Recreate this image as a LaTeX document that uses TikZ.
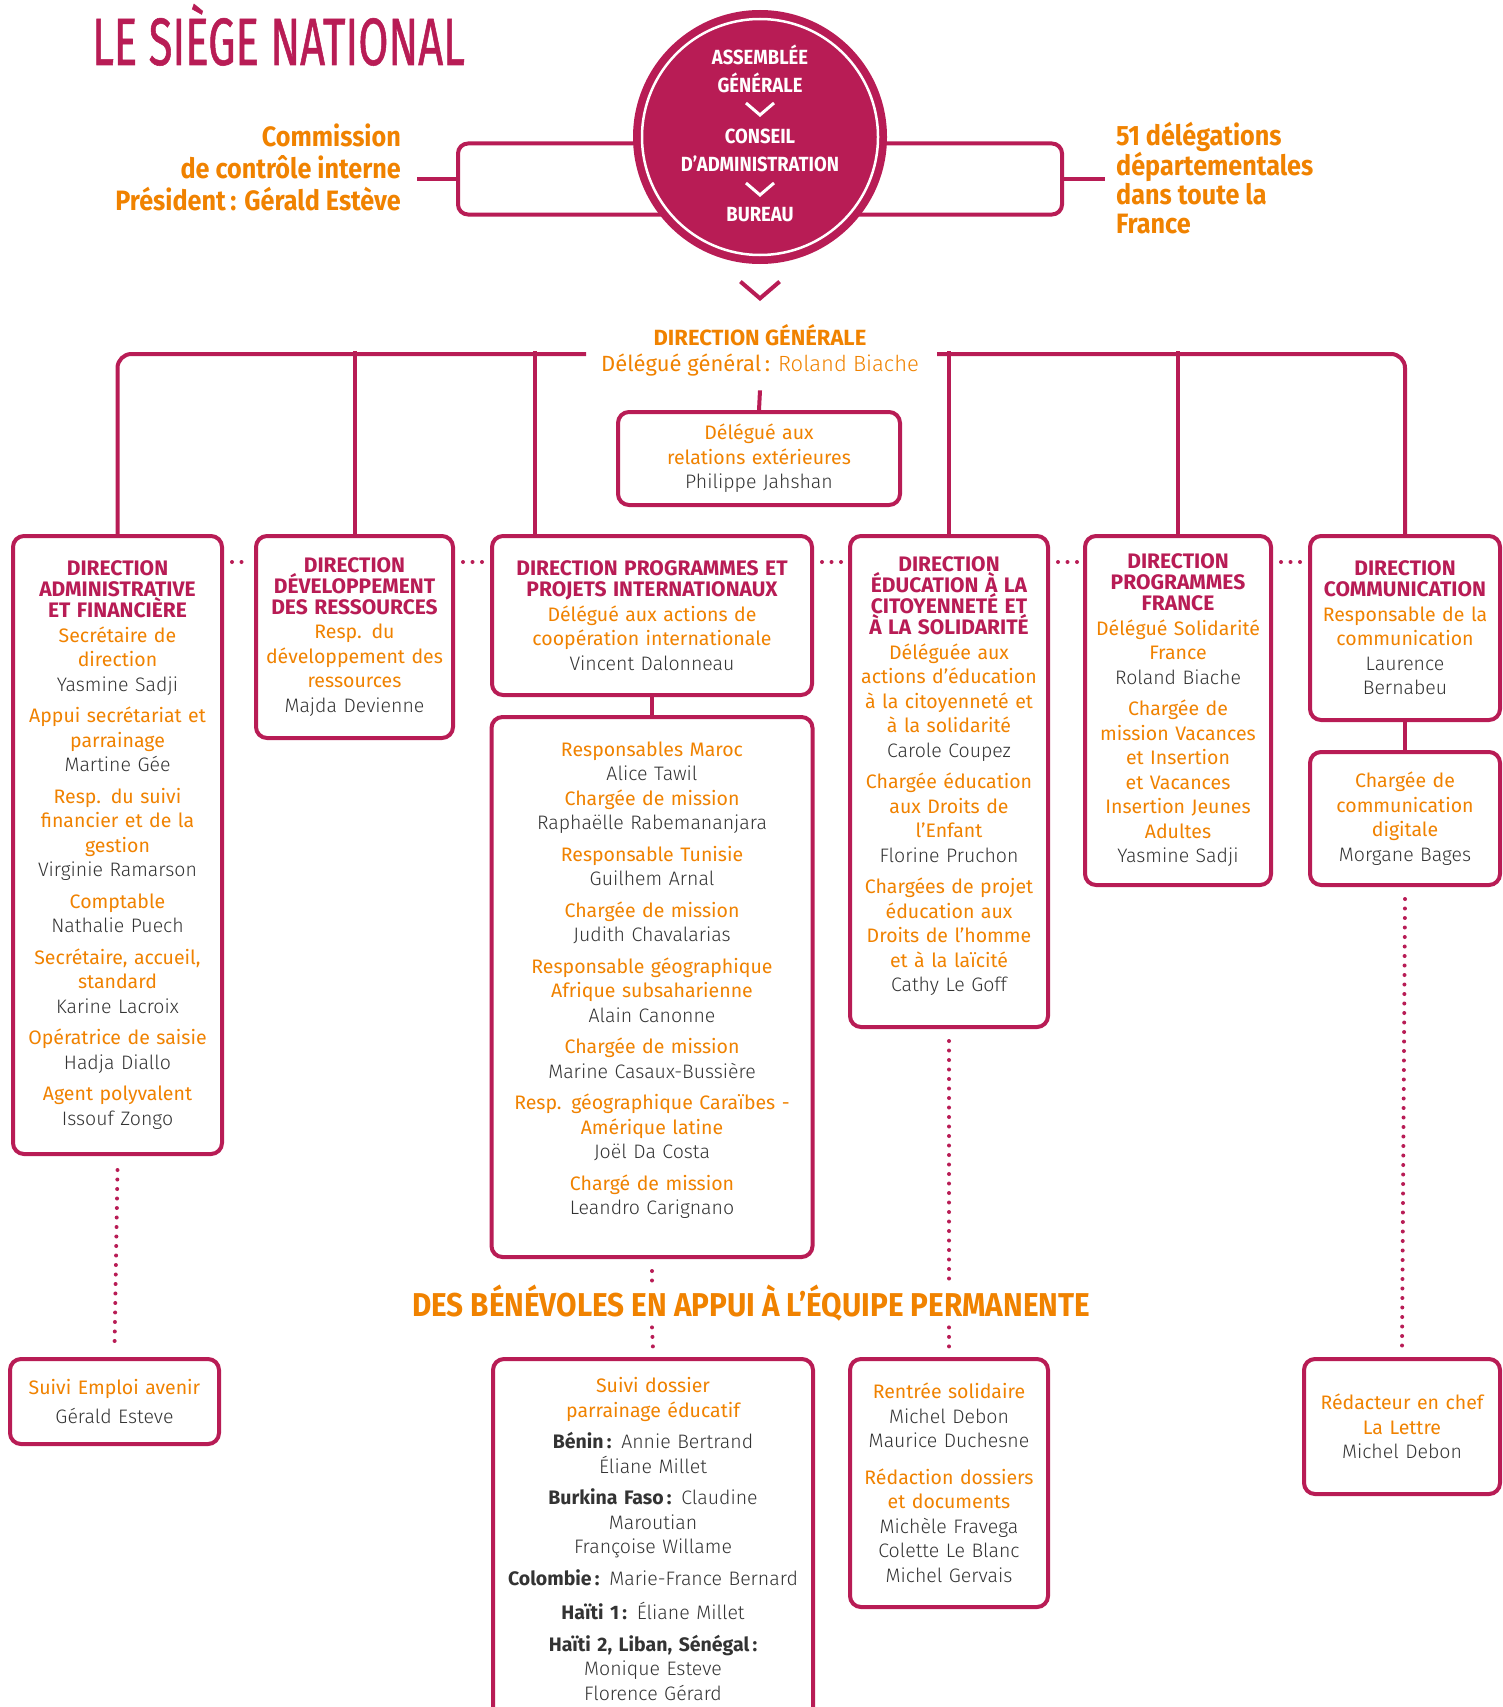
\documentclass[tikz,border=0pt]{standalone}
\usepackage{fontspec}
\setmainfont{Fira Sans}
\newfontfamily\namefont{Fira Sans Light}
\newfontfamily\headfont[FakeStretch=0.9]{Fira Sans}
\newfontfamily\titlefont[FakeStretch=0.65, FakeBold=0.8]{Fira Sans}
\usetikzlibrary{positioning, calc}

\definecolor{crimson}{HTML}{B81C55}
\definecolor{roleorange}{HTML}{F08200}
\definecolor{namegrey}{HTML}{333333}

\newcommand{\ro}[1]{\leavevmode{\rmfamily\color{roleorange}#1}}
\newcommand{\cty}[1]{{\rmfamily\bfseries #1}}
\newcommand{\dirhead}[1]{{\leavevmode\rmfamily\bfseries\fontsize{21}{21}\selectfont\color{crimson}#1\par}}
\newcommand{\gap}{7pt}

\begin{document}
\begin{tikzpicture}[x=1pt, y=-1pt,
    link/.style={draw=crimson, line width=4pt},
    dotline/.style={draw=crimson, line width=4pt, line cap=round, dash pattern=on 0pt off 9.5pt},
    orgbox/.style 2 args={draw=crimson, line width=4pt, rounded corners=11pt, fill=white,
        inner sep=0pt, anchor=north, align=center, text=namegrey,
        text width=#1pt, minimum width=#1pt, minimum height=#2pt,
        font=\namefont\fontsize{19.5}{24.5}\selectfont},
    circtext/.style={text=white, align=center, inner sep=0pt,
        font=\headfont\bfseries\fontsize{20.5}{28}\selectfont},
    sidetext/.style={text=roleorange, inner sep=0pt,
        font=\headfont\bfseries\fontsize{28}{32}\selectfont},
    vmark/.pic={\draw[pic actions] (-14,-6) -- (0,6) -- (14,-6);}
]
\useasboundingbox (0,0) rectangle (1503,1707);

% Title
\node[anchor=base west, inner sep=0pt, text=crimson,
    font=\titlefont\fontsize{67}{67}\selectfont] (title) at (92,65) {LE SIÈGE NATIONAL};

% Governance bodies
\node[draw=crimson, line width=4pt, rounded corners=10pt, minimum width=604pt,
    minimum height=71pt, inner sep=0pt] (bracket) at (760,179) {};
\coordinate (cstub) at (417,179);
\coordinate (dstub) at (1105,179);
\draw[link] (cstub) -- (bracket.west);
\draw[link] (bracket.east) -- (dstub);
\node[circle, fill=crimson, minimum size=254pt, inner sep=0pt] (ag) at (760,137) {};
\draw[white, line width=2.5pt] (ag.center) circle[radius=118pt];
\node[circtext] (assemblee) at (760,69) {ASSEMBLÉE\\GÉNÉRALE};
\pic[draw=white, line width=3pt] at (760,109) {vmark};
\node[circtext] (conseil) at (760,150) {CONSEIL\\D’ADMINISTRATION};
\pic[draw=white, line width=3pt] at (760,189) {vmark};
\node[circtext] (bureau) at (760,215) {BUREAU};

% Side texts
\node[sidetext, anchor=east, align=right] (commission) at (401,167)
    {Commission\\de contrôle interne\\Président\,: Gérald Estève};
\node[sidetext, anchor=west, align=left, font=\headfont\bfseries\fontsize{28}{29}\selectfont]
    (delegations) at (1116,178) {51 délégations\\départementales\\dans toute la\\France};

\pic[draw=crimson, line width=4pt, scale=1.4] at (760,290) {vmark};

% Direction generale
\node[inner sep=0pt, text=roleorange, font=\rmfamily\bfseries\fontsize{22}{22}\selectfont]
    (dg) at (760,335) {DIRECTION GÉNÉRALE};
\node[inner sep=0pt, text=roleorange, font=\fontsize{22}{22}\selectfont]
    (dgname) at (760,365) {Délégué général\,: {\namefont Roland Biache}};
\coordinate (hl) at (586,354);
\coordinate (hr) at (937,354);

\node[orgbox={282}{93}] (dre) at (759,410)
    {\ro{Délégué aux\\relations extérieures}\\Philippe Jahshan};

% Directions
\node[orgbox={209}{618}] (admin) at (117.5,534) {\dirhead{DIRECTION\\ADMINISTRATIVE\\ET FINANCIÈRE}
    \ro{Secrétaire de\\direction}\\Yasmine Sadji\\[\gap]
    \ro{Appui secrétariat et\\parrainage}\\Martine Gée\\[\gap]
    \ro{Resp. du suivi\\financier et de la\\gestion}\\Virginie Ramarson\\[\gap]
    \ro{Comptable}\\Nathalie Puech\\[\gap]
    \ro{Secrétaire, accueil,\\standard}\\Karine Lacroix\\[\gap]
    \ro{Opératrice de saisie}\\Hadja Diallo\\[\gap]
    \ro{Agent polyvalent}\\Issouf Zongo};

\node[orgbox={197}{202}] (dev) at (354.5,534) {\dirhead{DIRECTION\\DÉVELOPPEMENT\\DES RESSOURCES}
    \ro{Resp. du\\développement des\\ressources}\\Majda Devienne};

\node[orgbox={320}{159}] (progint) at (652,534) {\dirhead{DIRECTION PROGRAMMES ET\\PROJETS INTERNATIONAUX}
    \ro{Délégué aux actions de\\coopération internationale}\\Vincent Dalonneau};

\node[orgbox={321}{540}] (progsub) at (652,715) {\ro{Responsables Maroc}\\Alice Tawil\\
    \ro{Chargée de mission}\\Raphaëlle Rabemananjara\\[\gap]
    \ro{Responsable Tunisie}\\Guilhem Arnal\\[\gap]
    \ro{Chargée de mission}\\Judith Chavalarias\\[\gap]
    \ro{Responsable géographique\\Afrique subsaharienne}\\Alain Canonne\\[\gap]
    \ro{Chargée de mission}\\Marine Casaux-Bussière\\[\gap]
    \ro{Resp. géographique Caraïbes -\\Amérique latine}\\Joël Da Costa\\[\gap]
    \ro{Chargé de mission}\\Leandro Carignano\\[-6.5pt]\mbox{}};

\node[orgbox={198}{491}] (educ) at (949,534) {\dirhead{DIRECTION\\ÉDUCATION À LA\\CITOYENNETÉ ET\\À LA SOLIDARITÉ}
    \ro{Déléguée aux\\actions d’éducation\\à la citoyenneté et\\à la solidarité}\\Carole Coupez\\[\gap]
    \ro{Chargée éducation\\aux Droits de\\l’Enfant}\\Florine Pruchon\\[\gap]
    \ro{Chargées de projet\\éducation aux\\Droits de l’homme\\et à la laïcité}\\Cathy Le Goff\\[-10.5pt]\mbox{}};

\node[orgbox={186}{349}] (progfr) at (1178,534) {\dirhead{DIRECTION\\PROGRAMMES\\FRANCE}
    \ro{Délégué Solidarité\\France}\\Roland Biache\\[\gap]
    \ro{Chargée de\\mission Vacances\\et Insertion\\et Vacances\\Insertion Jeunes\\Adultes}\\Yasmine Sadji};

\node[orgbox={190}{184}] (com) at (1405,534) {\dirhead{DIRECTION\\COMMUNICATION}
    \ro{Responsable de la\\communication}\\Laurence\\Bernabeu};

\node[orgbox={190}{133}] (comdig) at (1405,750)
    {\ro{Chargée de\\communication\\digitale}\\Morgane Bages};

% Volunteers
\node[inner sep=0pt, text=roleorange, font=\headfont\bfseries\fontsize{33}{33}\selectfont]
    (benevoles) at (751,1303) {DES BÉNÉVOLES EN APPUI À L’ÉQUIPE PERMANENTE};

\node[orgbox={209}{85}] (semploi) at (114.5,1357) {\ro{Suivi Emploi avenir}\\[5pt]Gérald Esteve};

\node[orgbox={320}{360}] (parrainage) at (653,1357) {\ro{Suivi dossier\\parrainage éducatif}\\[\gap]
    \cty{Bénin\,:} Annie Bertrand\\Éliane Millet\\[\gap]
    \cty{Burkina Faso\,:} Claudine\\Maroutian\\Françoise Willame\\[\gap]
    \cty{Colombie\,:} Marie-France Bernard\\[10pt]
    \cty{Haïti 1\,:} Éliane Millet\\[\gap]
    \cty{Haïti 2, Liban, Sénégal\,:}\\Monique Esteve\\Florence Gérard};

\node[orgbox={198}{248}] (rentree) at (949,1357) {\ro{Rentrée solidaire}\\Michel Debon\\Maurice Duchesne\\[12pt]
    \ro{Rédaction dossiers\\et documents}\\Michèle Fravega\\Colette Le Blanc\\Michel Gervais};

\node[orgbox={196}{135}] (redacteur) at (1402,1357) {\ro{Rédacteur en chef\\La Lettre}\\Michel Debon};

% Solid links
\draw[link, rounded corners=14pt] (hl) -| (admin.north);
\draw[link, rounded corners=14pt] (hr) -| (com.north);
\draw[link] (dev.north) -- ($(dev.north |- hl)+(0,-3)$);
\coordinate (progtop) at ($(progint.north west)+(45,0)$);
\draw[link] (progtop) -- ($(progtop |- hl)+(0,-3)$);
\draw[link] (educ.north) -- ($(educ.north |- hr)+(0,-3)$);
\draw[link] (progfr.north) -- ($(progfr.north |- hr)+(0,-3)$);
\draw[link] ($(dgname.south)+(0,14)$) -- (dre.north);
\draw[link] (progint.south) -- (progint.south |- progsub.north);
\draw[link] (com.south) -- (comdig.north);

% Dotted links
\foreach \a/\b in {admin/dev, dev/progint, progint/educ, educ/progfr, progfr/com}
    \draw[dotline] ($(\a.north east)+(8,28)$) -- ($(\b.north west)+(-6,28)$);
\draw[dotline] ($(admin.south)+(0,14)$) -- ($(semploi.north)+(0,-8)$);
\draw[dotline] ($(progsub.south)+(0,12)$) -- ($(progsub.south |- benevoles.north)+(0,-4)$);
\draw[dotline] ($(progsub.south |- benevoles.south)+(0,6)$) -- ($(parrainage.north)+(0,-8)$);
\draw[dotline] ($(educ.south)+(0,12)$) -- ($(educ.south |- benevoles.north)+(0,-4)$);
\draw[dotline] ($(educ.south |- benevoles.south)+(0,6)$) -- ($(rentree.north)+(0,-8)$);
\draw[dotline] ($(comdig.south)+(0,12)$) -- ($(redacteur.north)+(0,-8)$);

\end{tikzpicture}
\end{document}
